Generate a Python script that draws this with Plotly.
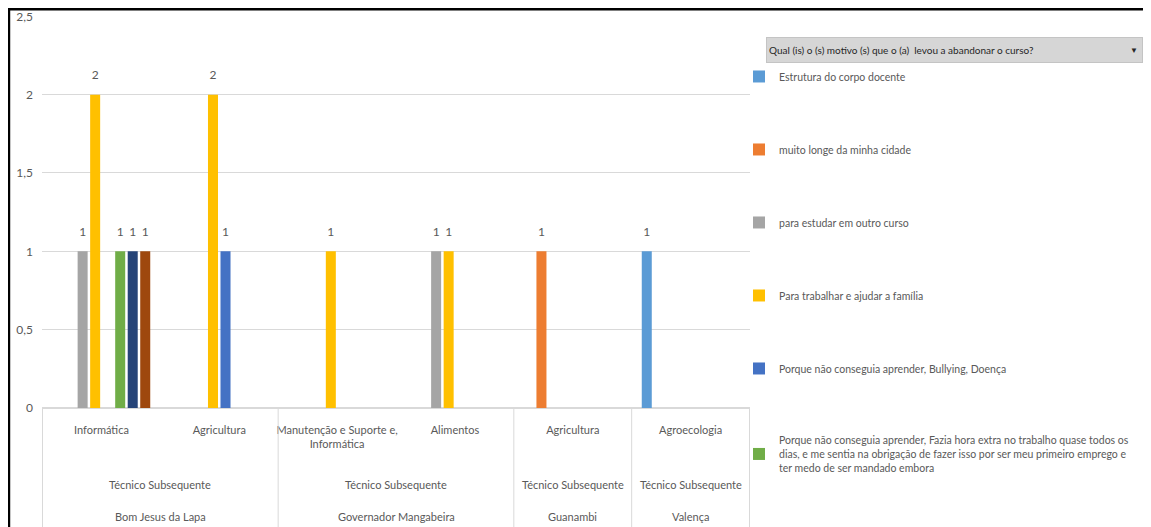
import plotly.graph_objects as go

# hierarchical categories (campus / modality / course)
campus = ['Bom Jesus da Lapa', 'Bom Jesus da Lapa', 'Governador Mangabeira',
          'Governador Mangabeira', 'Guanambi', 'Valença']
modalidade = ['Técnico Subsequente'] * 6
cursos = ['Informática', 'Agricultura', 'Manutenção e Suporte e,<br>Informática',
          'Alimentos', 'Agricultura', 'Agroecologia']

# series (motivos) - None = no bar
motivos = [
    'Estrutura do corpo docente',
    'muito longe da minha cidade',
    'para estudar em outro curso',
    'Para trabalhar e ajudar a família',
    'Porque não conseguia aprender, Bullying, Doença',
    'Porque não conseguia aprender, Fazia hora extra no trabalho quase todos os<br>'
    'dias, e me sentia na obrigação de fazer isso por ser meu primeiro emprego e<br>'
    'ter medo de ser mandado embora',
    'Outro motivo 7',
    'Outro motivo 8',
]
valores = [
    [None, None, None, None, None, 1],
    [None, None, None, None, 1, None],
    [1, None, None, 1, None, None],
    [2, 2, 1, 1, None, None],
    [None, 1, None, None, None, None],
    [1, None, None, None, None, None],
    [1, None, None, None, None, None],
    [1, None, None, None, None, None],
]
cores = ['#5B9BD5', '#ED7D31', '#A5A5A5', '#FFC000', '#4472C4', '#70AD47', '#264478', '#9E480E']
na_legenda = [True, True, True, True, True, True, False, False]

GRAY = '#595959'
FONT = 'Lato'
FS = 11

# unique category keys (course + campus), shown with the course name only
chaves = [f'{c} / {k}' for c, k in zip(cursos, campus)]

fig = go.Figure()
for i, nome in enumerate(motivos):
    fig.add_trace(go.Bar(
        x=chaves,
        y=valores[i],
        name=nome,
        marker=dict(color=cores[i], line=dict(width=0)),
        showlegend=na_legenda[i],
        legendgroup=f'g{i}',
        offsetgroup=f'g{i}',
    ))
# data labels, floated above the bars (grouped like the bars)
for i, nome in enumerate(motivos):
    fig.add_trace(go.Scatter(
        x=chaves,
        y=valores[i],
        mode='markers+text',
        text=valores[i],
        textposition='top center',
        marker=dict(size=18, color='rgba(0,0,0,0)'),
        textfont=dict(color=GRAY, size=12, family=FONT),
        cliponaxis=False,
        showlegend=False,
        hoverinfo='skip',
        offsetgroup=f'g{i}',
    ))

# group labels (modality + campus) under the course labels
grupos = [(0, 1, 'Bom Jesus da Lapa'), (2, 3, 'Governador Mangabeira'),
          (4, 4, 'Guanambi'), (5, 5, 'Valença')]
anots = []
shapes = []
for a, b, nome in grupos:
    xc = (a + b) / 2
    anots.append(dict(xref='x', yref='paper', x=xc, y=-0.1964, yanchor='middle',
                      text=modalidade[a], showarrow=False,
                      font=dict(size=FS, color=GRAY, family=FONT)))
    anots.append(dict(xref='x', yref='paper', x=xc, y=-0.278, yanchor='middle',
                      text=nome, showarrow=False,
                      font=dict(size=FS, color=GRAY, family=FONT)))
for xd in [-0.5, 1.5, 3.5, 4.5, 5.5]:
    shapes.append(dict(type='line', xref='x', yref='paper', x0=xd, x1=xd, y0=0, y1=-0.32,
                       line=dict(color='#d9d9d9', width=1)))

# black frame of the screenshot (figure edge)
shapes += [
    dict(type='line', xref='paper', yref='paper', x0=-0.047, x1=1.6, y0=1.0179, y1=1.0179,
         line=dict(color='black', width=3)),
    dict(type='line', xref='paper', yref='paper', x0=-0.047, x1=-0.047, y0=1.025, y1=-0.32,
         line=dict(color='black', width=3)),
]

# pivot field button above the legend
anots.append(dict(xref='paper', yref='paper', x=1.0226, y=0.9145, xanchor='left', yanchor='middle',
                  text='Qual (is) o (s) motivo (s) que o (a)  levou a abandonar o curso?',
                  showarrow=False, align='left', width=371, height=20, borderpad=2,
                  bgcolor='#d6d6d6', bordercolor='#c4c4c4', borderwidth=1,
                  font=dict(size=10, color='#262626', family=FONT)))
anots.append(dict(xref='paper', yref='paper', x=1.542, y=0.9145, xanchor='center', yanchor='middle',
                  text='▼', showarrow=False, font=dict(size=8, color='#262626')))

# page body has an 8px margin: figure is 8px smaller than the window
fig.update_layout(
    width=1143, height=519,
    margin=dict(l=34, r=401, t=8, b=119, autoexpand=False),
    paper_bgcolor='white',
    plot_bgcolor='white',
    separators=', ',
    barmode='group',
    scattermode='group',
    bargap=0.15,
    bargroupgap=0.2,
    scattergap=0.15,
    font=dict(family=FONT, color=GRAY, size=FS),
    xaxis=dict(
        type='category',
        tickvals=chaves,
        ticktext=cursos,
        tickangle=0,
        automargin=False,
        showgrid=False,
        showline=False,
        ticks='',
        ticklabelstandoff=14,
        tickfont=dict(size=FS, color=GRAY, family=FONT),
    ),
    yaxis=dict(
        range=[0, 2.502],
        dtick=0.5,
        automargin=False,
        gridcolor='#d9d9d9',
        zeroline=True,
        zerolinecolor='#d9d9d9',
        showline=False,
        ticklabelstandoff=8,
        ticklabeloverflow='allow',
        tickfont=dict(size=12, color=GRAY, family=FONT),
    ),
    legend=dict(
        x=0.9845, y=0.8827, xanchor='left', yanchor='top',
        tracegroupgap=54,
        maxheight=510,
        font=dict(size=10.5, color=GRAY, family=FONT),
        bgcolor='rgba(0,0,0,0)',
    ),
    shapes=shapes,
    annotations=anots,
)

fig.write_html('out.html')
